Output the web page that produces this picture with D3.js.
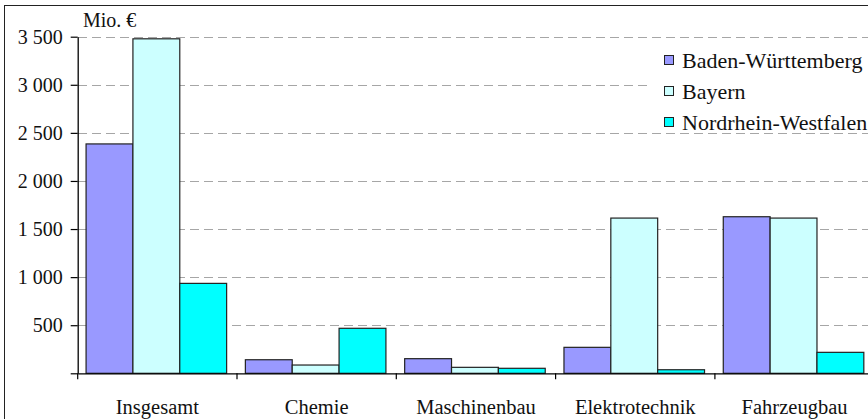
<!DOCTYPE html>
<html><head><meta charset="utf-8">
<script src="https://cdn.jsdelivr.net/npm/d3@7"></script>
<style>html,body{margin:0;padding:0;background:#fff;overflow:hidden}</style>
</head><body>
<svg id="c" width="868" height="419"></svg>
<script>
const categories = ["Insgesamt","Chemie","Maschinenbau","Elektrotechnik","Fahrzeugbau"];
const seriesNames = ["Baden-Württemberg","Bayern","Nordrhein-Westfalen"];
const bw  = [2385, 141, 152, 270, 1628];
const by  = [3478, 86, 62, 1614, 1614];
const nrw = [935, 468, 52, 37, 218];
const yTicks = [0,500,1000,1500,2000,2500,3000,3500];
const yTickLabels = ["","500","1 000","1 500","2 000","2 500","3 000","3 500"];
const unitLabel = "Mio. €";
const colors = ["#9999ff","#ccffff","#00ffff"];

const values = [bw, by, nrw];
const svg = d3.select("#c");
const font = '"Liberation Serif"';

// outer border
svg.append("rect").attr("x",4.5).attr("y",5.5).attr("width",880).attr("height",430)
  .attr("fill","none").attr("stroke","#222").attr("stroke-width",1);

const x0 = d3.scaleBand().domain(categories).range([77.7, 77.7+5*159.3]).paddingInner(0).paddingOuter(0);
const x1 = d3.scaleBand().domain(seriesNames).range([0, x0.bandwidth()]).paddingInner(0).paddingOuter(0.2);
const y = d3.scaleLinear().domain([0,3500]).range([373.3, 36.7]);

// gridlines
svg.append("g").selectAll("line").data(yTicks.filter(v=>v>0)).join("line")
  .attr("x1",78).attr("x2",868)
  .attr("y1",d=>Math.round(y(d))+0.5).attr("y2",d=>Math.round(y(d))+0.5)
  .attr("stroke","#a6a6a6").attr("stroke-width",1).attr("stroke-dasharray","9,5");

// bars
const g = svg.append("g");
categories.forEach((c,i)=>{
  seriesNames.forEach((s,j)=>{
    const v = values[j][i];
    g.append("rect")
      .attr("x", x0(c)+x1(s)-1).attr("width", x1.bandwidth())
      .attr("y", y(v)).attr("height", y(0)-y(v))
      .attr("fill", colors[j]).attr("stroke","#222").attr("stroke-width",1.2);
  });
});

// y axis
const yAxis = d3.axisLeft(y).tickValues(yTicks).tickSize(7).tickSizeOuter(0)
  .tickFormat((d,i)=>yTickLabels[i]);
const ya = svg.append("g").attr("transform","translate(77.7,0)").call(yAxis);
ya.attr("font-family",null).attr("font-size",null);
ya.select(".domain").attr("stroke","#000").attr("stroke-width",1.3);
ya.selectAll(".tick line").attr("stroke","#000").attr("stroke-width",1.2);
ya.selectAll(".tick text").attr("x",-15).style("font-family",font).style("font-size","20px").attr("fill","#111");

// x axis
const xAxis = d3.axisBottom(x0).tickSize(0).tickSizeOuter(0);
const xa = svg.append("g").attr("transform","translate(0,373.3)").call(xAxis);
xa.attr("font-family",null).attr("font-size",null);
xa.select(".domain").attr("stroke","#000").attr("stroke-width",1.3);
xa.selectAll(".tick text").attr("y",26).style("font-family",font).style("font-size","20.5px").attr("fill","#111");
// category separator ticks
const sepX = categories.map(c=>x0(c)).concat([x0(categories[4])+x0.bandwidth()]);
xa.append("g").selectAll("line").data(sepX).join("line")
  .attr("x1",d=>d).attr("x2",d=>d).attr("y1",0).attr("y2",6)
  .attr("stroke","#000").attr("stroke-width",1.2);

// unit label
svg.append("text").attr("x",83).attr("y",27).style("font-family",font).style("font-size","20px")
  .attr("fill","#111").text(unitLabel);

// legend
const lg = svg.append("g");
lg.append("rect").attr("x",651).attr("y",42).attr("width",217).attr("height",90).attr("fill","#fff");
seriesNames.forEach((s,j)=>{
  const cy = 60 + j*31;
  lg.append("rect").attr("x",664.5).attr("y",cy-4.5).attr("width",9).attr("height",9)
    .attr("fill",colors[j]).attr("stroke","#222").attr("stroke-width",1);
  lg.append("text").attr("x",682).attr("y",cy).attr("dy","0.35em").style("font-family",font)
    .style("font-size","22px").attr("fill","#111").text(s);
});
</script>
</body></html>
